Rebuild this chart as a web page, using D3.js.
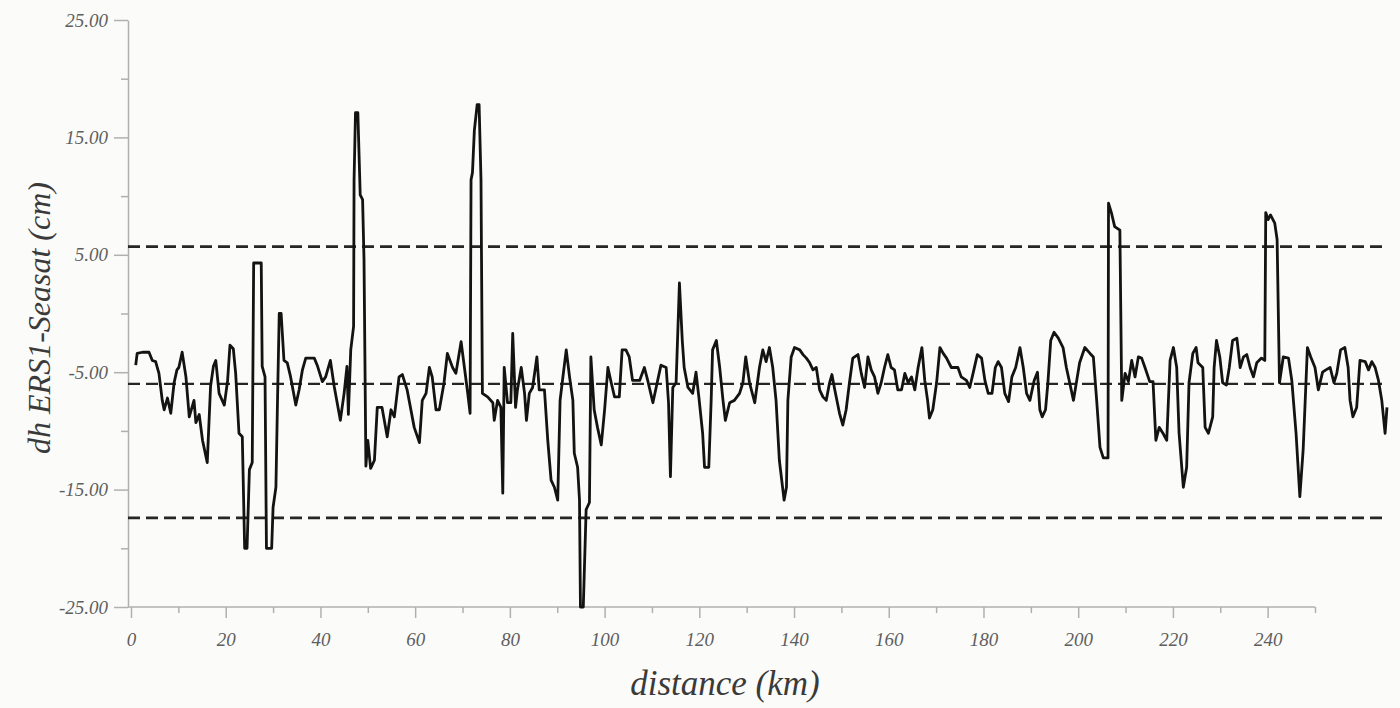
<!DOCTYPE html>
<html>
<head>
<meta charset="utf-8">
<script src="https://cdn.jsdelivr.net/npm/d3@7"></script>
<style>
  body { margin: 0; background: #fbfbf9; }
  svg { display: block; }
  .tick text { font-family: "Liberation Serif", "DejaVu Serif", serif; font-style: italic; fill: #5e5e5e; }
  .axis path, .axis line { stroke: #b0b0b0; stroke-width: 1.5; }
</style>
</head>
<body>
<svg id="chart" width="1400" height="708"></svg>
<script>
// dh ERS1 - Seasat profile, [distance km, dh cm]
var profile = [
  [1.0,-4.4],[1.3,-3.4],[2.4,-3.3],[3.8,-3.3],[4.5,-4.0],[5.2,-4.1],[5.9,-5.1],[6.6,-7.4],[7.0,-8.2],[7.7,-7.2],
  [8.4,-8.5],[9.1,-5.9],[9.7,-4.8],[10.1,-4.6],[10.8,-3.3],[11.6,-5.4],[12.3,-8.8],[13.3,-7.4],[13.7,-9.3],[14.4,-8.6],
  [15.1,-10.8],[16.1,-12.7],[16.8,-6.2],[17.4,-4.5],[17.9,-4.0],[18.6,-6.8],[19.7,-7.8],[20.4,-5.7],[20.9,-2.7],[21.6,-3.0],
  [22.1,-5.1],[22.8,-10.2],[23.5,-10.5],[24.0,-20.0],[24.5,-20.0],[25.0,-13.3],[25.6,-12.7],[25.9,4.3],[27.5,4.3],[27.7,-4.5],
  [28.3,-5.4],[28.6,-20.0],[29.7,-20.0],[30.0,-16.5],[30.6,-14.8],[30.9,-8.2],[31.3,0.0],[31.7,0.0],[32.3,-4.0],[33.0,-4.2],
  [33.7,-5.4],[34.8,-7.8],[35.5,-6.5],[36.2,-4.8],[36.9,-3.8],[38.7,-3.8],[39.4,-4.5],[40.4,-5.8],[41.1,-5.4],[42.1,-4.0],
  [42.9,-6.2],[44.2,-9.1],[45.0,-6.8],[45.6,-4.5],[45.9,-8.6],[46.4,-3.1],[47.0,-1.1],[47.1,11.4],[47.4,17.1],[47.9,17.1],
  [48.4,10.1],[48.9,9.7],[49.2,4.6],[49.6,-13.0],[50.0,-10.8],[50.6,-13.2],[51.4,-12.5],[52.0,-8.0],[53.0,-8.0],[54.1,-10.5],
  [54.9,-8.2],[55.6,-8.8],[56.6,-5.4],[57.3,-5.2],[58.3,-6.5],[59.8,-9.7],[60.9,-11.0],[61.5,-7.4],[62.3,-6.8],[63.0,-4.6],
  [63.6,-5.4],[64.4,-8.2],[65.1,-8.2],[66.1,-5.9],[66.8,-3.4],[67.9,-4.6],[68.6,-5.1],[69.7,-2.4],[70.4,-4.6],[71.1,-6.8],
  [71.6,-8.5],[71.8,11.4],[72.1,12.0],[72.5,15.6],[73.1,17.8],[73.5,17.8],[73.9,11.4],[74.2,-6.8],[75.3,-7.1],[76.4,-7.6],
  [76.7,-9.1],[77.4,-7.4],[78.1,-8.0],[78.5,-15.3],[78.8,-4.6],[79.5,-7.6],[80.2,-7.6],[80.6,-1.7],[81.2,-8.0],[81.6,-6.5],
  [82.4,-4.6],[83.1,-6.8],[83.5,-9.1],[84.1,-6.8],[84.8,-6.3],[85.7,-3.7],[86.2,-6.5],[87.3,-6.5],[88.0,-10.8],[88.7,-14.2],
  [89.4,-14.8],[90.1,-15.9],[90.6,-7.4],[91.2,-5.4],[91.9,-3.1],[92.6,-5.4],[93.3,-7.4],[93.6,-11.9],[94.3,-13.1],[94.7,-15.9],
  [94.9,-25.0],[95.5,-25.0],[96.1,-16.7],[96.8,-16.1],[97.1,-3.7],[97.8,-8.2],[98.5,-9.7],[99.3,-11.2],[100.0,-8.2],[100.7,-4.6],
  [101.4,-5.9],[102.1,-7.1],[103.1,-7.1],[103.7,-3.1],[104.5,-3.1],[105.2,-3.7],[105.9,-5.7],[107.4,-5.7],[108.4,-4.6],[109.1,-5.7],
  [110.2,-7.6],[111.2,-5.7],[111.9,-4.4],[113.0,-4.6],[113.5,-7.6],[113.9,-13.9],[114.4,-6.3],[115.1,-5.9],[115.8,2.6],[116.4,-2.3],
  [116.8,-4.6],[117.6,-6.3],[118.6,-6.8],[119.3,-5.0],[119.9,-7.1],[120.7,-10.2],[121.1,-13.1],[122.0,-13.1],[122.5,-7.4],[122.8,-3.1],
  [123.6,-2.3],[124.3,-4.6],[125.0,-7.4],[125.5,-9.1],[126.4,-7.6],[127.4,-7.4],[128.5,-6.8],[129.2,-5.9],[129.8,-3.7],[130.6,-5.9],
  [131.7,-7.6],[132.7,-4.6],[133.4,-3.1],[134.1,-4.1],[134.8,-2.9],[135.5,-4.6],[136.2,-7.4],[136.9,-12.5],[137.9,-15.9],[138.4,-14.8],
  [138.7,-7.4],[139.4,-3.7],[140.1,-2.9],[141.2,-3.1],[141.9,-3.5],[142.6,-3.8],[143.3,-4.2],[144.0,-4.8],[144.7,-4.6],[145.4,-6.5],
  [146.1,-7.1],[146.8,-7.4],[147.5,-5.9],[148.0,-5.2],[148.6,-6.5],[149.6,-8.5],[150.3,-9.5],[151.0,-8.2],[151.7,-5.9],[152.4,-3.8],
  [153.5,-3.5],[154.2,-5.1],[154.9,-6.3],[155.6,-3.7],[156.3,-4.8],[157.0,-5.4],[157.7,-6.8],[158.4,-5.9],[159.1,-4.6],[159.8,-3.5],
  [160.5,-4.6],[161.2,-4.8],[161.9,-6.5],[162.7,-6.5],[163.4,-5.1],[164.1,-5.9],[164.8,-5.4],[165.5,-6.5],[166.2,-4.6],[167.0,-2.9],
  [167.6,-5.7],[168.2,-7.4],[168.6,-8.9],[169.3,-8.2],[170.1,-5.9],[170.8,-2.9],[171.5,-3.4],[172.2,-3.8],[173.2,-4.6],[174.6,-4.6],
  [175.3,-5.4],[176.4,-5.7],[177.1,-6.3],[177.8,-5.1],[178.7,-3.5],[179.6,-3.8],[180.3,-5.7],[181.0,-6.8],[181.8,-6.8],[182.5,-4.6],
  [183.1,-4.1],[183.8,-4.6],[184.5,-6.8],[185.3,-7.5],[186.0,-5.4],[186.8,-4.6],[187.7,-2.9],[188.4,-4.6],[189.1,-6.8],[189.8,-7.4],
  [190.7,-5.7],[191.4,-5.0],[191.9,-8.2],[192.4,-8.8],[193.1,-8.2],[193.6,-5.9],[194.2,-2.3],[194.9,-1.6],[195.8,-2.1],[196.8,-2.9],
  [197.5,-4.6],[198.2,-5.9],[199.0,-7.4],[200.3,-4.2],[201.4,-2.9],[202.5,-3.4],[203.2,-3.7],[203.9,-7.4],[204.6,-11.4],[205.3,-12.3],
  [206.3,-12.3],[206.4,9.4],[207.0,8.6],[207.7,7.4],[208.8,7.1],[209.2,-7.4],[209.9,-5.1],[210.6,-5.8],[211.3,-4.0],[212.0,-5.4],
  [212.7,-3.7],[213.4,-3.8],[214.1,-4.6],[215.1,-5.8],[215.8,-5.8],[216.4,-10.8],[217.1,-9.7],[217.9,-10.2],[218.7,-10.8],[219.4,-4.0],
  [220.1,-2.9],[220.8,-4.6],[221.3,-10.2],[222.2,-14.8],[222.9,-13.1],[223.4,-5.9],[224.2,-3.4],[224.9,-2.9],[225.3,-4.2],[226.3,-4.6],
  [226.8,-9.7],[227.5,-10.2],[228.4,-8.8],[228.7,-4.6],[229.2,-2.3],[229.9,-3.7],[230.5,-5.9],[231.3,-6.1],[231.9,-4.6],[232.6,-2.3],
  [233.5,-2.1],[234.2,-4.6],[234.9,-3.7],[235.6,-3.5],[236.3,-4.6],[237.0,-5.4],[237.7,-4.2],[238.7,-3.8],[239.4,-4.0],[239.6,8.6],
  [240.1,8.0],[240.6,8.4],[241.5,7.7],[242.0,6.3],[242.5,-5.9],[243.3,-3.7],[244.4,-3.8],[245.1,-5.7],[246.0,-10.2],[246.8,-15.6],
  [247.5,-11.6],[248.4,-2.9],[249.1,-3.7],[250.0,-4.6],[250.7,-6.5],[251.6,-5.0],[252.3,-4.8],[253.2,-4.6],[254.0,-5.9],[254.6,-5.1],
  [255.4,-3.1],[256.3,-2.9],[257.0,-4.6],[257.4,-7.4],[258.0,-8.8],[258.8,-8.0],[259.5,-4.0],[260.6,-4.1],[261.3,-4.8],[262.0,-4.1],
  [262.7,-4.6],[263.4,-5.7],[264.1,-7.4],[264.8,-10.2],[265.2,-8.0]
];

// upper limit, mean, lower limit (cm)
var refLevels = [5.7, -6.0, -17.4];
var refExtent = [0, 265];

var xMajor = d3.range(0, 241, 20);
var xMinor = d3.range(10, 251, 20);
var yMajor = [-25, -15, -5, 5, 15, 25];
var yMinor = [-20, -10, 0, 10, 20];

var svg = d3.select('#chart');

var x = d3.scaleLinear().domain([0, 250]).range([131, 1315]);
var y = d3.scaleLinear().domain([-25, 25]).range([607, 20]);
var axisX = 128;

// minor ticks first, majors on top
svg.append('g')
  .attr('class', 'axis')
  .attr('transform', 'translate(0,607)')
  .call(d3.axisBottom(x).tickValues(xMinor).tickSize(6).tickFormat(''))
  .select('.domain').remove();

svg.append('g')
  .attr('class', 'axis')
  .attr('transform', 'translate(0,607)')
  .call(d3.axisBottom(x).tickValues(xMajor).tickSize(11).tickPadding(15).tickSizeOuter(0))
  .call(function(g) {
    g.select('.domain').attr('d', 'M' + axisX + ',0H' + x(250));
    g.selectAll('.tick text').style('font-size', '19px');
  });

svg.append('g')
  .attr('class', 'axis')
  .attr('transform', 'translate(' + axisX + ',0)')
  .call(d3.axisLeft(y).tickValues(yMinor).tickSize(7).tickFormat(''))
  .select('.domain').remove();

svg.append('g')
  .attr('class', 'axis')
  .attr('transform', 'translate(' + axisX + ',0)')
  .call(d3.axisLeft(y).tickValues(yMajor).tickSize(14).tickPadding(6).tickSizeOuter(0)
    .tickFormat(function(d) { return d3.format('.2f')(d).replace('\u2212', '-'); }))
  .call(function(g) {
    g.selectAll('.tick text').style('font-size', '19px');
  });

// dashed reference lines
svg.append('g')
  .selectAll('line')
  .data(refLevels)
  .enter()
  .append('line')
  .attr('x1', axisX)
  .attr('x2', x(refExtent[1]))
  .attr('y1', function(d) { return y(d); })
  .attr('y2', function(d) { return y(d); })
  .attr('stroke', '#262626')
  .attr('stroke-width', function(d, i) { return i == 1 ? 2.2 : 2.8; })
  .attr('stroke-dasharray', '12,6');

// profile
var line = d3.line()
  .x(function(d) { return x(d[0]); })
  .y(function(d) { return y(d[1]); });

svg.append('path')
  .datum(profile)
  .attr('d', line)
  .attr('fill', 'none')
  .attr('stroke', '#131313')
  .attr('stroke-width', 2.8)
  .attr('stroke-linejoin', 'round');

// axis titles
svg.append('text')
  .attr('x', 725)
  .attr('y', 695)
  .attr('text-anchor', 'middle')
  .style('font-family', '"Liberation Serif", serif')
  .style('font-style', 'italic')
  .style('font-size', '35px')
  .style('fill', '#3a3a3a')
  .text('distance (km)');

svg.append('text')
  .attr('transform', 'translate(50,318) rotate(-90)')
  .attr('text-anchor', 'middle')
  .style('font-family', '"Liberation Serif", serif')
  .style('font-style', 'italic')
  .style('font-size', '32px')
  .style('fill', '#3a3a3a')
  .text('dh ERS1-Seasat (cm)');
</script>
</body>
</html>
